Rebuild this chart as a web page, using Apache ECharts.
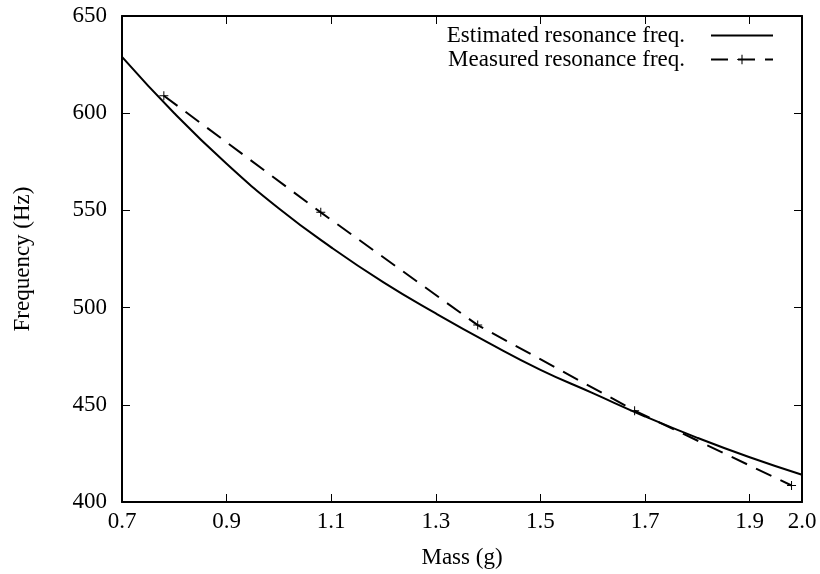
<!DOCTYPE html>
<html>
<head>
<meta charset="utf-8">
<script src="https://cdn.jsdelivr.net/npm/echarts@6/dist/echarts.min.js"></script>
<style>
html,body{margin:0;padding:0;background:#fff;}
#chart{width:820px;height:574px;}
</style>
</head>
<body>
<div id="chart"></div>
<script>
// Data
var estMass = [0.7, 0.8, 0.9, 1.0, 1.1, 1.2, 1.3, 1.4, 1.5, 1.6, 1.7, 1.8, 1.9, 2.0];
var estFreq = [629, 600, 574, 551, 531, 513, 497, 482, 468, 456, 444, 433, 423, 414];
var measMass = [0.78, 1.08, 1.38, 1.68, 1.98];
var measFreq = [609, 549, 491, 447, 408.5];
var xTicks = [0.7, 0.9, 1.1, 1.3, 1.5, 1.7, 1.9, 2.0];
var yTicks = [400, 450, 500, 550, 600, 650];
var seriesNames = ['Estimated resonance freq.', 'Measured resonance freq.'];

function pairs(xs, ys) { return xs.map(function (x, i) { return [x, ys[i]]; }); }

var FONT = "'Liberation Serif', 'Times New Roman', serif";
var plus = 'path://M4,0H5V4H9V5H5V9H4V5H0V4H4Z';

var chart = echarts.init(document.getElementById('chart'), null, {renderer: 'canvas'});

function xAxisDef(pos, show) {
  return {
    type: 'value', position: pos, min: 0.7, max: 2.0,
    name: show ? 'Mass (g)' : '', nameLocation: 'middle', nameGap: 44,
    nameTextStyle: {fontFamily: FONT, fontSize: 23, color: '#000'},
    axisLine: {show: true, onZero: false, lineStyle: {color: '#000', width: 2}},
    axisTick: {show: true, inside: true, length: 8, customValues: xTicks, lineStyle: {color: '#000', width: 1}},
    axisLabel: {show: show, customValues: xTicks, margin: 8, fontFamily: FONT, fontSize: 23, color: '#000',
      formatter: function (v) { return (+v).toFixed(1); }},
    splitLine: {show: false}
  };
}
function yAxisDef(pos, show) {
  return {
    type: 'value', position: pos, min: 400, max: 650, interval: 50,
    name: show ? 'Frequency (Hz)' : '', nameLocation: 'middle', nameGap: 88, nameRotate: 90,
    nameTextStyle: {fontFamily: FONT, fontSize: 23, color: '#000'},
    axisLine: {show: true, onZero: false, lineStyle: {color: '#000', width: 2}},
    axisTick: {show: true, inside: true, length: 8, lineStyle: {color: '#000', width: 1}},
    axisLabel: {show: show, margin: 15, fontFamily: FONT, fontSize: 23, color: '#000'},
    splitLine: {show: false}
  };
}

chart.setOption({
  animation: false,
  backgroundColor: '#fff',
  grid: {left: 122, right: 18, top: 16, bottom: 70, containLabel: false},
  legend: {
    right: 41, top: 19, orient: 'vertical', align: 'right',
    itemWidth: 62, itemHeight: 12, itemGap: 1,
    textStyle: {fontFamily: FONT, fontSize: 23, color: '#000', padding: [0, 21, 0, 0]},
    data: [
      {name: seriesNames[0], itemStyle: {opacity: 0}},
      {name: seriesNames[1]}
    ]
  },
  xAxis: [xAxisDef('bottom', true), xAxisDef('top', false)],
  yAxis: [yAxisDef('left', true), yAxisDef('right', false)],
  series: [
    {
      name: seriesNames[0], type: 'line', xAxisIndex: 0, yAxisIndex: 0,
      data: pairs(estMass, estFreq), smooth: true, symbol: 'none',
      lineStyle: {color: '#000', width: 2, type: 'solid'},
      itemStyle: {color: '#000'}
    },
    {
      name: seriesNames[1], type: 'line', xAxisIndex: 0, yAxisIndex: 0,
      data: pairs(measMass, measFreq), smooth: false,
      symbol: plus, symbolSize: 9, showSymbol: true,
      lineStyle: {color: '#000', width: 2, type: [17, 10]},
      itemStyle: {color: '#000'}
    }
  ]
});
</script>
</body>
</html>
